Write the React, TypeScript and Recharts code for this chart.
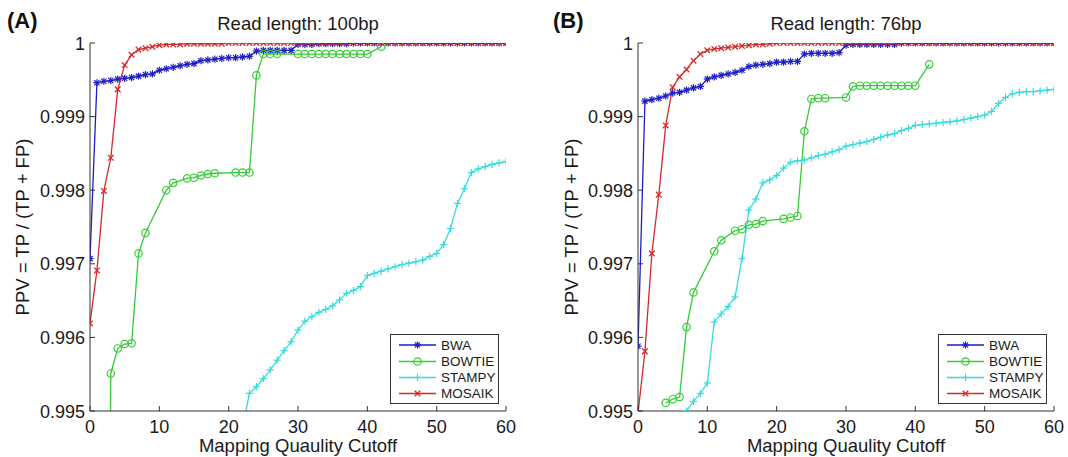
import React from 'react';
import { LineChart, Line, XAxis, YAxis } from 'recharts';

// ---------- shared ----------
const SERIES_NAMES = ['BWA', 'BOWTIE', 'STAMPY', 'MOSAIK'];
const SERIES_COLORS = ['#1d1dc4', '#36cc36', '#36dcdc', '#d42a2a'];
const SERIES_MARKERS = ['star', 'circle', 'plus', 'x'];
const X_TICKS = [0, 10, 20, 30, 40, 50, 60];
const Y_TICKS = [0.995, 0.996, 0.997, 0.998, 0.999, 1];
const Y_TICK_LABELS = ['0.995', '0.996', '0.997', '0.998', '0.999', '1'];
const PANEL_TAGS = ['(A)', '(B)'];
const PANEL_TITLES = ['Read length: 100bp', 'Read length: 76bp'];
const X_LABEL = 'Mapping Quaulity Cutoff';
const Y_LABEL = 'PPV = TP / (TP + FP)';

const CUTOFFS = [
  0, 1, 2, 3, 4, 5, 6, 7, 8, 9, 10, 11, 12, 13, 14, 15, 16, 17, 18, 19, 20,
  21, 22, 23, 24, 25, 26, 27, 28, 29, 30, 31, 32, 33, 34, 35, 36, 37, 38, 39, 40,
  41, 42, 43, 44, 45, 46, 47, 48, 49, 50, 51, 52, 53, 54, 55, 56, 57, 58, 59, 60,
];

// ---------- Panel A: read length 100bp ----------
const A_BWA = [
  0.99707, 0.99946, 0.99948, 0.99949, 0.99951, 0.99952, 0.99953, 0.99955, 0.99957, 0.99958,
  0.99963, 0.99965, 0.99967, 0.99969, 0.99971, 0.99972, 0.99976, 0.99977, 0.99978, 0.99979,
  0.9998, 0.9998, 0.99981, 0.99982, 0.99989, 0.9999, 0.9999, 0.9999, 0.9999, 0.9999,
  0.99998, 0.99998, 0.99998, 0.99999, 0.99999, 0.99999, 0.99999, 0.99999, 1, 1,
  1, 1, 1, 1, 1, 1, 1, 1, 1, 1,
  1, 1, 1, 1, 1, 1, 1, 1, 1, 1, 1,
];
const A_BOWTIE_X = [2, 3, 4, 5, 6, 7, 8, 11, 12, 14, 15, 16, 17, 18, 21, 22, 23, 24, 25, 26, 27,
  30, 31, 32, 33, 34, 35, 36, 37, 38, 39, 40, 42];
const A_BOWTIE = [
  0.98, 0.99551, 0.99585, 0.99591, 0.99592, 0.99714, 0.99742, 0.998, 0.9981,
  0.99816, 0.99817, 0.9982, 0.99822, 0.99823, 0.99824, 0.99824, 0.99824,
  0.99956, 0.99985, 0.99985, 0.99985,
  0.99985, 0.99985, 0.99985, 0.99985, 0.99985, 0.99985, 0.99985, 0.99985, 0.99985, 0.99985, 0.99985,
  0.99995,
];
const A_STAMPY_X = [22, 23, 24, 25, 26, 27, 28, 29, 30, 31, 32, 33, 34, 35, 36, 37, 38, 39, 40,
  41, 42, 43, 44, 45, 46, 47, 48, 49, 50, 51, 52, 53, 54, 55, 56, 57, 58, 59, 60];
const A_STAMPY = [
  0.99478, 0.99524, 0.99533, 0.99544, 0.99556, 0.99569, 0.99582, 0.99594, 0.9961,
  0.99622, 0.99628, 0.99634, 0.99638, 0.99643, 0.99651, 0.9966, 0.99664, 0.99669, 0.99684,
  0.99687, 0.9969, 0.99693, 0.99696, 0.99699, 0.99701, 0.99703, 0.99705, 0.9971, 0.99714,
  0.99726, 0.99748, 0.99782, 0.99802, 0.99824, 0.99829, 0.99832, 0.99835, 0.99837, 0.99839,
];
const A_MOSAIK = [
  0.99619, 0.99691, 0.99799, 0.99844, 0.99937, 0.9997, 0.99984, 0.99991, 0.99993, 0.99995,
  0.99997, 0.99998, 0.99998, 0.99998, 0.99999, 0.99999, 0.99999, 0.99999, 0.99999, 0.99999,
  1, 1, 1, 1, 1, 1, 1, 1, 1, 1,
  1, 1, 1, 1, 1, 1, 1, 1, 1, 1,
  1, 1, 1, 1, 1, 1, 1, 1, 1, 1,
  1, 1, 1, 1, 1, 1, 1, 1, 1, 1, 1,
];

// ---------- Panel B: read length 76bp ----------
const B_BWA = [
  0.99588, 0.99921, 0.99923, 0.99925, 0.99928, 0.99932, 0.99933, 0.99936, 0.99939, 0.99941,
  0.99951, 0.99954, 0.99956, 0.99958, 0.9996, 0.99963, 0.99968, 0.9997, 0.99971, 0.99972,
  0.99974, 0.99974, 0.99975, 0.99975, 0.99985, 0.99986, 0.99986, 0.99986, 0.99986, 0.99987,
  0.99997, 0.99998, 0.99998, 0.99998, 0.99998, 0.99998, 0.99998, 0.99998, 1, 1,
  1, 1, 1, 1, 1, 1, 1, 1, 1, 1,
  1, 1, 1, 1, 1, 1, 1, 1, 1, 1, 1,
];
const B_BOWTIE_X = [4, 5, 6, 7, 8, 11, 12, 14, 15, 16, 17, 18, 21, 22, 23, 24, 25, 26, 27,
  30, 31, 32, 33, 34, 35, 36, 37, 38, 39, 40, 42];
const B_BOWTIE = [
  0.99511, 0.99516, 0.99519, 0.99614, 0.99661, 0.99717, 0.99732,
  0.99745, 0.99747, 0.99753, 0.99754, 0.99758, 0.99761, 0.99763, 0.99765,
  0.9988, 0.99924, 0.99925, 0.99925,
  0.99926, 0.99941, 0.99942, 0.99942, 0.99942, 0.99942, 0.99942, 0.99942, 0.99942, 0.99942, 0.99942,
  0.99971,
];
const B_STAMPY_X = [7, 8, 9, 10, 11, 12, 13, 14, 15, 16, 17, 18, 19, 20, 21, 22, 23, 24, 25, 26,
  27, 28, 29, 30, 31, 32, 33, 34, 35, 36, 37, 38, 39, 40, 41, 42, 43, 44, 45, 46, 47, 48, 49,
  50, 51, 52, 53, 54, 55, 56, 57, 58, 59, 60];
const B_STAMPY = [
  0.995, 0.99513, 0.99524, 0.99538, 0.99621, 0.99632, 0.99642, 0.99655, 0.99707, 0.99773,
  0.99788, 0.9981, 0.99814, 0.9982, 0.9983, 0.99838, 0.9984, 0.99841, 0.99844, 0.99847,
  0.99849, 0.99852, 0.99855, 0.9986, 0.99862, 0.99864, 0.99866, 0.99869, 0.99872, 0.99875,
  0.99877, 0.99881, 0.99884, 0.99888, 0.99889, 0.9989, 0.99891, 0.99892, 0.99893, 0.99894,
  0.99896, 0.99898, 0.999, 0.99902, 0.99907, 0.99918, 0.99926, 0.99931, 0.99933, 0.99934,
  0.99934, 0.99935, 0.99936, 0.99937,
];
const B_MOSAIK = [
  0.99497, 0.99581, 0.99714, 0.99794, 0.99888, 0.9994, 0.99954, 0.99964, 0.99976, 0.99985,
  0.9999, 0.99992, 0.99993, 0.99994, 0.99995, 0.99996, 0.99997, 0.99998, 0.99998, 0.99999,
  1, 1, 1, 1, 1, 1, 1, 1, 1, 1,
  1, 1, 1, 1, 1, 1, 1, 1, 1, 1,
  1, 1, 1, 1, 1, 1, 1, 1, 1, 1,
  1, 1, 1, 1, 1, 1, 1, 1, 1, 1, 1,
];

const zip = (xs: number[], ys: number[]) => xs.map((x, i) => ({ x, y: ys[i] }));

const PANEL_A_SERIES = [zip(CUTOFFS, A_BWA), zip(A_BOWTIE_X, A_BOWTIE), zip(A_STAMPY_X, A_STAMPY), zip(CUTOFFS, A_MOSAIK)];
const PANEL_B_SERIES = [zip(CUTOFFS, B_BWA), zip(B_BOWTIE_X, B_BOWTIE), zip(B_STAMPY_X, B_STAMPY), zip(CUTOFFS, B_MOSAIK)];

// ---------- drawing helpers ----------
const FONT = '"Liberation Sans", Arial, Helvetica, sans-serif';
const AXIS = '#333333';
const TEXT = '#1a1a1a';
const CHART_W = 534;
const CHART_H = 457;
const PLOT_TOP = 43;
const PLOT_BOTTOM = 411;
const LINE_W = 1.3;
const MARK_W = 1.2;

function Marker({ kind, cx, cy, color }: any) {
  if (cx == null || cy == null || isNaN(cx) || isNaN(cy)) return <g />;
  if (kind === 'circle') {
    return <circle cx={cx} cy={cy} r={3.7} fill="none" stroke={color} strokeWidth={MARK_W} />;
  }
  if (kind === 'plus') {
    const a = 3.6;
    return (
      <g stroke={color} strokeWidth={MARK_W}>
        <line x1={cx - a} y1={cy} x2={cx + a} y2={cy} />
        <line x1={cx} y1={cy - a} x2={cx} y2={cy + a} />
      </g>
    );
  }
  if (kind === 'x') {
    const d = 2.8;
    return (
      <g stroke={color} strokeWidth={MARK_W + 0.1}>
        <line x1={cx - d} y1={cy - d} x2={cx + d} y2={cy + d} />
        <line x1={cx - d} y1={cy + d} x2={cx + d} y2={cy - d} />
      </g>
    );
  }
  const a = 3.6;
  const d = 2.6;
  return (
    <g stroke={color} strokeWidth={MARK_W}>
      <line x1={cx - a} y1={cy} x2={cx + a} y2={cy} />
      <line x1={cx} y1={cy - a} x2={cx} y2={cy + a} />
      <line x1={cx - d} y1={cy - d} x2={cx + d} y2={cy + d} />
      <line x1={cx - d} y1={cy + d} x2={cx + d} y2={cy - d} />
    </g>
  );
}

const BottomTick = (p: any) => (
  <g>
    <line x1={p.x} y1={p.y} x2={p.x} y2={p.y - 5} stroke={AXIS} />
    <text x={p.x} y={p.y + 22} textAnchor="middle" fontSize={18} fill={TEXT} fontFamily={FONT}>
      {p.payload.value}
    </text>
  </g>
);
const TopTick = (p: any) => (
  <line x1={p.x} y1={p.y} x2={p.x} y2={p.y + 5} stroke={AXIS} />
);
const LeftTick = (p: any) => (
  <g>
    <line x1={p.x} y1={p.y} x2={p.x + 5} y2={p.y} stroke={AXIS} />
    <text x={p.x - 5} y={p.y + 6.5} textAnchor="end" fontSize={18} fill={TEXT} fontFamily={FONT}>
      {Y_TICK_LABELS[Y_TICKS.indexOf(p.payload.value)]}
    </text>
  </g>
);
const RightTick = (p: any) => (
  <line x1={p.x} y1={p.y} x2={p.x - 5} y2={p.y} stroke={AXIS} />
);

function Legend({ left, top }: any) {
  const w = 109;
  const h = 70;
  const rows = [11, 27.5, 43.5, 59.5];
  return (
    <svg style={{ position: 'absolute', left, top }} width={w} height={h}>
      <rect x={0.5} y={0.5} width={w - 1} height={h - 1} fill="#fff" stroke={AXIS} strokeWidth={1} />
      {SERIES_NAMES.map((name, i) => (
        <g key={name}>
          <line x1={9} y1={rows[i]} x2={46} y2={rows[i]} stroke={SERIES_COLORS[i]} strokeWidth={LINE_W} />
          <Marker kind={SERIES_MARKERS[i]} cx={27.5} cy={rows[i]} color={SERIES_COLORS[i]} />
          <text x={51} y={rows[i] + 4.8} fontSize={13.5} fill={TEXT} fontFamily={FONT}>{name}</text>
        </g>
      ))}
    </svg>
  );
}

function Panel({ offsetX, plotL, plotR, series, tag, tagX, title, yLabelX }: any) {
  const yAxisW = plotL - offsetX;
  const marginRight = offsetX + CHART_W - plotR;
  return (
    <div style={{ position: 'absolute', left: offsetX, top: 0, width: CHART_W, height: CHART_H }}>
      <LineChart
        width={CHART_W}
        height={CHART_H}
        margin={{ top: PLOT_TOP, right: marginRight, bottom: 0, left: 0 }}
      >
        <XAxis xAxisId="b" type="number" dataKey="x" domain={[0, 60]} ticks={X_TICKS} interval={0}
          height={CHART_H - PLOT_BOTTOM} tickSize={0} tickMargin={0} tickLine={false}
          axisLine={{ stroke: AXIS }} tick={<BottomTick />} allowDataOverflow />
        <XAxis xAxisId="t" orientation="top" type="number" dataKey="x" domain={[0, 60]} ticks={X_TICKS}
          interval={0} height={0} tickSize={0} tickMargin={0} tickLine={false}
          axisLine={{ stroke: AXIS }} tick={<TopTick />} allowDataOverflow />
        <YAxis yAxisId="l" type="number" domain={[0.995, 1]} ticks={Y_TICKS} interval={0}
          width={yAxisW} tickSize={0} tickMargin={0} tickLine={false}
          axisLine={{ stroke: AXIS }} tick={<LeftTick />} allowDataOverflow />
        <YAxis yAxisId="r" orientation="right" type="number" domain={[0.995, 1]} ticks={Y_TICKS}
          interval={0} width={0} tickSize={0} tickMargin={0} tickLine={false}
          axisLine={{ stroke: AXIS }} tick={<RightTick />} allowDataOverflow />
        {series.map((d: any, i: number) => (
          <Line
            key={SERIES_NAMES[i]}
            xAxisId="b"
            yAxisId="l"
            data={d}
            dataKey="y"
            name={SERIES_NAMES[i]}
            type="linear"
            stroke={SERIES_COLORS[i]}
            strokeWidth={LINE_W}
            isAnimationActive={false}
            activeDot={false}
            dot={(p: any) => (
              <Marker key={`${i}-${p.index}`} kind={SERIES_MARKERS[i]} cx={p.cx} cy={p.cy} color={SERIES_COLORS[i]} />
            )}
          />
        ))}
      </LineChart>
      <div style={{ position: 'absolute', left: tagX - offsetX, top: 9, fontSize: 22, lineHeight: '24px', fontWeight: 700, color: '#111', fontFamily: FONT, whiteSpace: 'nowrap' }}>{tag}</div>
      <div style={{ position: 'absolute', left: plotL - offsetX, width: plotR - plotL, top: 14, fontSize: 18.5, lineHeight: '20px', textAlign: 'center', color: TEXT, fontFamily: FONT, whiteSpace: 'nowrap' }}>{title}</div>
      <div style={{ position: 'absolute', left: plotL - offsetX, width: plotR - plotL, top: 436, fontSize: 18.5, lineHeight: '20px', textAlign: 'center', color: TEXT, fontFamily: FONT, whiteSpace: 'nowrap' }}>{X_LABEL}</div>
      <div style={{ position: 'absolute', left: yLabelX - offsetX - 150, top: (PLOT_TOP + PLOT_BOTTOM) / 2 - 10, width: 300, height: 20, fontSize: 18.5, lineHeight: '20px', textAlign: 'center', color: TEXT, fontFamily: FONT, whiteSpace: 'nowrap', transform: 'rotate(-90deg)' }}>{Y_LABEL}</div>
      <Legend left={plotR - 7 - 109 - offsetX} top={PLOT_BOTTOM - 7 - 70} />
    </div>
  );
}

export default function App() {
  return (
    <div style={{ position: 'absolute', left: 0, top: 0, width: 1068, height: 457, background: '#fff', overflow: 'hidden', fontFamily: FONT }}>
      <Panel offsetX={0} plotL={90} plotR={506} series={PANEL_A_SERIES} tag={PANEL_TAGS[0]} tagX={7} title={PANEL_TITLES[0]} yLabelX={23} />
      <Panel offsetX={534} plotL={638} plotR={1054} series={PANEL_B_SERIES} tag={PANEL_TAGS[1]} tagX={553} title={PANEL_TITLES[1]} yLabelX={572} />
    </div>
  );
}
